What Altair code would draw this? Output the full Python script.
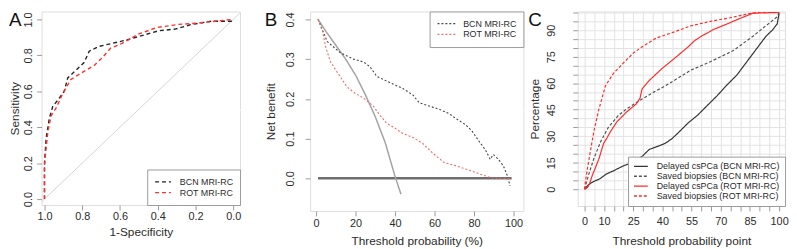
import altair as alt
import pandas as pd

FONT = "Liberation Sans"
TXT = "#2b2b2b"
FRAME = "#9a9a9a"

# ---------------- Panel A: ROC curves ----------------
a_names = ["BCN MRI-RC", "ROT MRI-RC"]
a_bcn_spec = [1.0, 1.0, 0.991, 0.974, 0.956, 0.93, 0.895, 0.877, 0.833, 0.79, 0.763, 0.71, 0.64, 0.57, 0.484, 0.395, 0.307, 0.22, 0.115, 0.01, 0.0]
a_bcn_sens = [0.0, 0.2, 0.34, 0.45, 0.516, 0.55, 0.60, 0.674, 0.717, 0.76, 0.823, 0.85, 0.867, 0.884, 0.91, 0.937, 0.946, 0.972, 0.99, 0.99, 1.0]
a_rot_spec = [1.0, 1.0, 0.996, 0.982, 0.965, 0.938, 0.904, 0.86, 0.807, 0.737, 0.693, 0.649, 0.588, 0.50, 0.404, 0.29, 0.184, 0.096, 0.0]
a_rot_sens = [0.0, 0.18, 0.235, 0.375, 0.463, 0.507, 0.586, 0.666, 0.70, 0.744, 0.788, 0.84, 0.867, 0.919, 0.955, 0.972, 0.98, 0.99, 1.0]
a_diag_spec = [1.1, -0.1]
a_diag_sens = [-0.1, 1.1]
a_ticks = [1.0, 0.8, 0.6, 0.4, 0.2, 0.0]

# ---------------- Panel B: decision curves ----------------
b_names = ["BCN MRI-RC", "ROT MRI-RC"]
b_all_t = [1, 5, 10, 15, 20, 25, 30, 35, 40, 43]
b_all_nb = [0.40, 0.37, 0.335, 0.30, 0.26, 0.21, 0.155, 0.09, 0.005, -0.04]
b_none_t = [1, 99]
b_none_nb = [0.0, 0.0]
b_bcn_t = [1, 5.7, 12.3, 19, 24, 27.3, 30.7, 37.3, 44, 49, 52.3, 57.3, 62.3, 67.3, 70.7, 75.7, 79, 82.3, 85.7, 88.2, 89.8, 92.3, 94.8, 97, 98.2]
b_bcn_nb = [0.40, 0.344, 0.316, 0.30, 0.293, 0.281, 0.257, 0.241, 0.226, 0.21, 0.19, 0.182, 0.174, 0.163, 0.151, 0.135, 0.119, 0.095, 0.072, 0.048, 0.06, 0.048, 0.032, 0.005, -0.019]
b_rot_t = [1, 3.2, 4.8, 7.3, 11.5, 15.7, 19.8, 24, 29, 32.3, 35.7, 39.8, 43.2, 49, 54, 59, 64.8, 70.7, 77.3, 84, 89, 95.5, 99]
b_rot_nb = [0.40, 0.372, 0.332, 0.293, 0.261, 0.23, 0.214, 0.202, 0.182, 0.159, 0.139, 0.127, 0.115, 0.103, 0.088, 0.064, 0.04, 0.032, 0.021, 0.009, 0.001, 0.0, 0.0]
b_xticks = [0, 20, 40, 60, 80, 100]
b_yticks = [0.0, 0.1, 0.2, 0.3, 0.4]

# ---------------- Panel C: percentages ----------------
c_names = ["Delayed csPCa (BCN MRI-RC)", "Saved biopsies (BCN MRI-RC)",
           "Delayed csPCa (ROT MRI-RC)", "Saved biopsies (ROT MRI-RC)"]
c_del_bcn_t = [0, 2, 4, 8, 11, 15, 19.5, 23, 27, 30, 33.2, 38.2, 41.5, 44.8, 48.2, 53.2, 58.2, 63.2, 68.2, 73.2, 78.2, 84, 89.8, 93.2, 96.5, 99, 100]
c_del_bcn_p = [0, 2.5, 4, 6, 8.5, 10.5, 13, 14.5, 16.5, 19, 22.5, 24.5, 26, 28.5, 32, 37.5, 42, 47.5, 53, 59, 64.5, 73, 81.5, 86.5, 90, 93.5, 99.5]
c_sav_bcn_t = [0, 1, 2.3, 4.8, 8.2, 12.3, 17.3, 21.5, 28.2, 34.8, 41.5, 48.2, 54.8, 61.5, 68.2, 76.5, 86.5, 93.2, 99, 100]
c_sav_bcn_p = [0, 4, 9, 17.5, 26.8, 35.2, 41.7, 45.4, 50.1, 54.5, 58.5, 63, 67.5, 70.6, 74, 78.5, 86.5, 92.5, 97.5, 100]
c_del_rot_t = [0, 1.5, 2.5, 4, 5.5, 7.3, 9.8, 11.5, 13.2, 16.5, 21.5, 26.5, 28.5, 29.5, 33.2, 39.8, 46.5, 53.2, 56.5, 59.8, 66.5, 73.2, 79.8, 86.5, 100]
c_del_rot_p = [0, 1, 3, 8, 12, 17, 26, 29, 32.4, 38, 43.6, 48.2, 51.5, 56.6, 61.5, 68.3, 74.3, 80.5, 84, 86.4, 90.5, 93.5, 96.6, 99.6, 100]
c_sav_rot_t = [0, 0.5, 1.5, 3.2, 4.8, 7.3, 10.7, 14.8, 20, 25, 29.8, 36.8, 44.8, 54.8, 64.8, 74.8, 84.8, 90, 100]
c_sav_rot_p = [0, 5, 12, 23, 33, 45, 58.5, 65.5, 71.5, 77, 80.8, 85.5, 88.5, 92.5, 95, 97, 99.4, 100, 100]
c_ticks = list(range(0, 101, 5))
c_xlabels = [0, 10, 25, 40, 55, 70, 85, 100]


def line_df(series):
    rows = []
    for name, xs, ys in series:
        for i, (x, y) in enumerate(zip(xs, ys)):
            rows.append({"series": name, "x": x, "y": y, "i": i})
    return pd.DataFrame(rows)


def ax(**kw):
    base = dict(domain=False, ticks=True, tickColor=FRAME, tickSize=5, tickWidth=1,
                grid=False, labelOverlap=False, labelFont=FONT, labelFontSize=11,
                labelColor=TXT, titleFont=FONT, titleFontSize=12,
                titleFontWeight="normal", titleColor=TXT)
    base.update(kw)
    return alt.Axis(**base)


def yax(title, lab_pad, title_x, values, **kw):
    return ax(title=title, values=values, labelAngle=270, labelAlign="center",
              labelBaseline="middle", labelPadding=lab_pad, titleAngle=270,
              titleX=title_x, titleBaseline="middle", **kw)


def xax(title, lab_pad, title_y, values, **kw):
    return ax(title=title, values=values, labelAlign="center", labelBaseline="middle",
              labelPadding=lab_pad, titleY=title_y, titleBaseline="middle", **kw)


def legend(orient, pad, ssize, loff, clip):
    return alt.Legend(title=None, orient=orient, offset=0, strokeColor=FRAME,
                      fillColor="white", padding=pad, symbolType="stroke",
                      symbolSize=ssize, symbolStrokeWidth=1.3, labelFont=FONT,
                      labelFontSize=9, labelColor=TXT, labelOffset=loff,
                      clipHeight=clip, rowPadding=0, labelLimit=300)


def letter(ch, dx):
    return alt.Chart(alt.Data(values=[{"k": 1}])).mark_text(
        text=ch, fontSize=19, align="left", baseline="top", font=FONT, color="#111111"
    ).encode(x=alt.value(dx), y=alt.value(0))


def spacer(x1, x2, y):
    return alt.Chart(alt.Data(values=[{"k": 1}])).mark_rule(color="white", strokeWidth=1).encode(
        x=alt.value(x1), x2=alt.value(x2), y=alt.value(y))


# ---------------- Panel A ----------------
WA, HA = 201, 196
dfA = line_df([(a_names[0], a_bcn_spec, a_bcn_sens), (a_names[1], a_rot_spec, a_rot_sens)])
xA = alt.Scale(domain=[-0.0362, 1.0154], reverse=True, nice=False, zero=False)
yA = alt.Scale(domain=[-0.033, 1.044], nice=False, zero=False)
axAx = xax("1-Specificity", 7, 27, a_ticks, format=".1f")
axAy = yax("Sensitivity", 8, -27, a_ticks, format=".1f")
legA = legend("bottom-right", 7, 256, 8, 11)
rocA = alt.Chart(dfA).mark_line(strokeWidth=1.4).encode(
    x=alt.X("x:Q", scale=xA, axis=axAx),
    y=alt.Y("y:Q", scale=yA, axis=axAy),
    color=alt.Color("series:N", scale=alt.Scale(domain=a_names, range=["#222222", "#ff3030"]), legend=legA),
    strokeDash=alt.StrokeDash("series:N", scale=alt.Scale(domain=a_names, range=[[4, 3], [4, 3]]), legend=legA),
    order="i:Q",
)
diagA = alt.Chart(pd.DataFrame({"x": a_diag_spec, "y": a_diag_sens})).mark_line(
    color="#d4d4d4", strokeWidth=1, clip=True
).encode(x=alt.X("x:Q", scale=xA, axis=axAx), y=alt.Y("y:Q", scale=yA, axis=axAy))
panelA = alt.layer(diagA, rocA, letter("A", -33), spacer(WA, WA + 23, 100)).properties(width=WA, height=HA)

# ---------------- Panel B ----------------
WB, HB = 216, 202
dfB = line_df([(b_names[0], b_bcn_t, b_bcn_nb), (b_names[1], b_rot_t, b_rot_nb)])
xB = alt.Scale(domain=[-3, 105], nice=False, zero=False)
yB = alt.Scale(domain=[-0.082, 0.4199], nice=False, zero=False)
axBx = xax("Threshold probability (%)", 8, 30, b_xticks)
axBy = yax("Net benefit", 15, -40, b_yticks, format=".1f")
legB = legend("top-right", 7, 324, 7, 10.5)
dcB = alt.Chart(dfB).mark_line(strokeWidth=1.1).encode(
    x=alt.X("x:Q", scale=xB, axis=axBx),
    y=alt.Y("y:Q", scale=yB, axis=axBy),
    color=alt.Color("series:N", scale=alt.Scale(domain=b_names, range=["#444444", "#f06a6a"]), legend=legB),
    strokeDash=alt.StrokeDash("series:N", scale=alt.Scale(domain=b_names, range=[[2, 2], [2, 2]]), legend=legB),
    order="i:Q",
)
noneB = alt.Chart(pd.DataFrame({"x": b_none_t, "y": b_none_nb})).mark_line(
    color="#6e6e6e", strokeWidth=2.5
).encode(x=alt.X("x:Q", scale=xB, axis=axBx), y=alt.Y("y:Q", scale=yB, axis=axBy))
allB = alt.Chart(pd.DataFrame({"x": b_all_t, "y": b_all_nb})).mark_line(
    color="#a3a3a3", strokeWidth=1.5
).encode(x=alt.X("x:Q", scale=xB, axis=axBx), y=alt.Y("y:Q", scale=yB, axis=axBy))
panelB = alt.layer(noneB, allB, dcB, letter("B", -46), spacer(WB, WB + 3, 100)).properties(width=WB, height=HB)

# ---------------- Panel C ----------------
WC, HC = 210, 197
dfC = line_df([(c_names[0], c_del_bcn_t, c_del_bcn_p), (c_names[1], c_sav_bcn_t, c_sav_bcn_p),
               (c_names[2], c_del_rot_t, c_del_rot_p), (c_names[3], c_sav_rot_t, c_sav_rot_p)])
xC = alt.Scale(domain=[-3.55, 103.05], nice=False, zero=False)
yC = alt.Scale(domain=[-9.5, 100.56], nice=False, zero=False)
legC = legend("bottom-right", 5, 196, 8, 9.7)
xlab_expr = "indexof([0,10,25,40,55,70,85,100], datum.value) >= 0 ? datum.label : ''"
ylab_expr = "datum.value % 15 == 0 ? datum.label : ''"
curC = alt.Chart(dfC).mark_line(strokeWidth=1.2).encode(
    x=alt.X("x:Q", scale=xC, axis=xax("Threshold probability point", 11, 35, c_ticks,
                                      labelExpr=xlab_expr, grid=True, gridColor="#e3e3e3", gridWidth=1)),
    y=alt.Y("y:Q", scale=yC, axis=yax("Percentage", 22, -44, c_ticks,
                                      labelExpr=ylab_expr, grid=True, gridColor="#e3e3e3", gridWidth=1)),
    color=alt.Color("series:N", scale=alt.Scale(domain=c_names,
                    range=["#333333", "#555555", "#ff2a2a", "#ff2a2a"]), legend=legC),
    strokeDash=alt.StrokeDash("series:N", scale=alt.Scale(domain=c_names,
                              range=[[1, 0], [3, 2], [1, 0], [3, 2]]), legend=legC),
    order="i:Q",
)
panelC = alt.layer(curC, letter("C", -50)).properties(width=WC, height=HC)

chart = alt.hconcat(panelA, panelB, panelC, spacing=0, bounds="full").resolve_scale(
    color="independent", strokeDash="independent"
).properties(padding=0).configure_view(stroke=FRAME, strokeWidth=1).configure(font=FONT)

chart.save("out.html", embed_options={"renderer": "svg", "actions": False})
